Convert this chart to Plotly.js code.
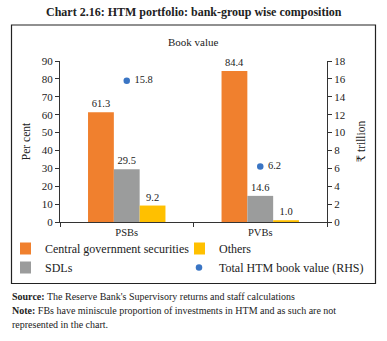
<!DOCTYPE html>
<html><head><meta charset="utf-8">
<script src="https://cdn.plot.ly/plotly-3.0.1.min.js"></script>
<style>html,body{margin:0;padding:0;background:#fff}#chart{width:387px;height:341px}</style>
</head><body><div id="chart"></div>
<script>
const categories = ["PSBs", "PVBs"];
const centralGovt = [61.3, 84.4];
const sdls = [29.5, 14.6];
const others = [9.2, 1.0];
const totalHTM = [15.8, 6.2];

const F = "Liberation Serif, DejaVu Serif, serif";
const lbl = {family: F, size: 10.5, color: "#222"};

const traces = [
  {type: "bar", name: "Central government securities", x: categories, y: centralGovt,
   marker: {color: "#F0802E"}, text: centralGovt.map(v => v.toFixed(1)), textposition: "outside",
   textfont: lbl, cliponaxis: false, legend: "legend"},
  {type: "bar", name: "SDLs", x: categories, y: sdls,
   marker: {color: "#9B9C9C"}, text: sdls.map(v => v.toFixed(1)), textposition: "outside",
   textfont: lbl, cliponaxis: false, legend: "legend"},
  {type: "bar", name: "Others", x: categories, y: others,
   marker: {color: "#FFC000"}, text: others.map(v => v.toFixed(1)), textposition: "outside",
   textfont: lbl, cliponaxis: false, legend: "legend2"},
  {type: "scatter", mode: "markers+text", name: "Total HTM book value (RHS)", x: categories, y: totalHTM,
   yaxis: "y2", marker: {color: "#3A75C4", size: 6.5}, text: totalHTM.map(v => " " + v.toFixed(1)),
   textposition: "middle right", textfont: lbl, cliponaxis: false, legend: "legend2"}
];

const px = x => (x - 60) / 267;
const py = y => (222 - y) / 161;

const legFont = {family: F, size: 12, color: "#222"};
const layout = {
  width: 387, height: 341,
  margin: {l: 60, r: 60, t: 61, b: 119},
  paper_bgcolor: "#fff", plot_bgcolor: "#fff",
  font: {family: F, size: 10.5, color: "#222"},
  barmode: "group", bargap: 0.42, bargroupgap: 0,
  showlegend: true,
  legend: {orientation: "v", x: px(20), y: py(234), xanchor: "left", yanchor: "top",
           itemwidth: 30, indentation: -15, font: legFont, tracegroupgap: 0, traceorder: "normal",
           bgcolor: "rgba(0,0,0,0)"},
  legend2: {orientation: "v", x: px(194), y: py(234), xanchor: "left", yanchor: "top",
           itemwidth: 30, indentation: -15, font: legFont, tracegroupgap: 0, traceorder: "normal",
           bgcolor: "rgba(0,0,0,0)"},
  xaxis: {type: "category", showline: true, linecolor: "#333", linewidth: 1,
          ticks: "outside", tickson: "boundaries", ticklen: 4, tickcolor: "#333",
          tickfont: {family: F, size: 10.5, color: "#222"}, showgrid: false, zeroline: false},
  yaxis: {range: [0, 90], dtick: 10, showline: true, linecolor: "#333", linewidth: 1,
          ticks: "outside", ticklen: 4, tickcolor: "#333", showgrid: false, zeroline: false,
          tickfont: {family: F, size: 11, color: "#222"},
          title: {text: "Per cent", font: {family: F, size: 11.5, color: "#222"}, standoff: 8}},
  yaxis2: {range: [0, 18], dtick: 2, overlaying: "y", side: "right", showline: true,
           linecolor: "#333", linewidth: 1, ticks: "outside", ticklen: 4, tickcolor: "#333",
           showgrid: false, zeroline: false, tickfont: {family: F, size: 11, color: "#222"},
           title: {text: "₹ trillion", font: {family: F, size: 11.5, color: "#222"}, standoff: 12}},
  shapes: [
    {type: "rect", xref: "paper", yref: "paper", x0: px(11.5), x1: px(375.5), y0: py(283.5), y1: py(25),
     line: {color: "#222", width: 1.2}, fillcolor: "rgba(0,0,0,0)", layer: "below"}
  ],
  annotations: [
    {xref: "paper", yref: "paper", x: px(193.5), y: py(12), xanchor: "center", yanchor: "middle",
     text: "<b>Chart 2.16: HTM portfolio: bank-group wise composition</b>", showarrow: false,
     font: {family: F, size: 12, color: "#222"}},
    {xref: "paper", yref: "paper", x: px(193.5), y: py(42), xanchor: "center", yanchor: "middle",
     text: "Book value", showarrow: false, font: {family: F, size: 11, color: "#222"}},
    {xref: "paper", yref: "paper", x: px(10), y: py(296), xanchor: "left", yanchor: "middle",
     text: "<b>Source:</b> The Reserve Bank's Supervisory returns and staff calculations", showarrow: false,
     font: {family: F, size: 10, color: "#222"}},
    {xref: "paper", yref: "paper", x: px(10), y: py(310), xanchor: "left", yanchor: "middle",
     text: "<b>Note:</b> FBs have miniscule proportion of investments in HTM and as such are not", showarrow: false,
     font: {family: F, size: 10, color: "#222"}},
    {xref: "paper", yref: "paper", x: px(10), y: py(324), xanchor: "left", yanchor: "middle",
     text: "represented in the chart.", showarrow: false,
     font: {family: F, size: 10, color: "#222"}}
  ]
};

Plotly.newPlot("chart", traces, layout, {staticPlot: true, displayModeBar: false});
</script></body></html>
